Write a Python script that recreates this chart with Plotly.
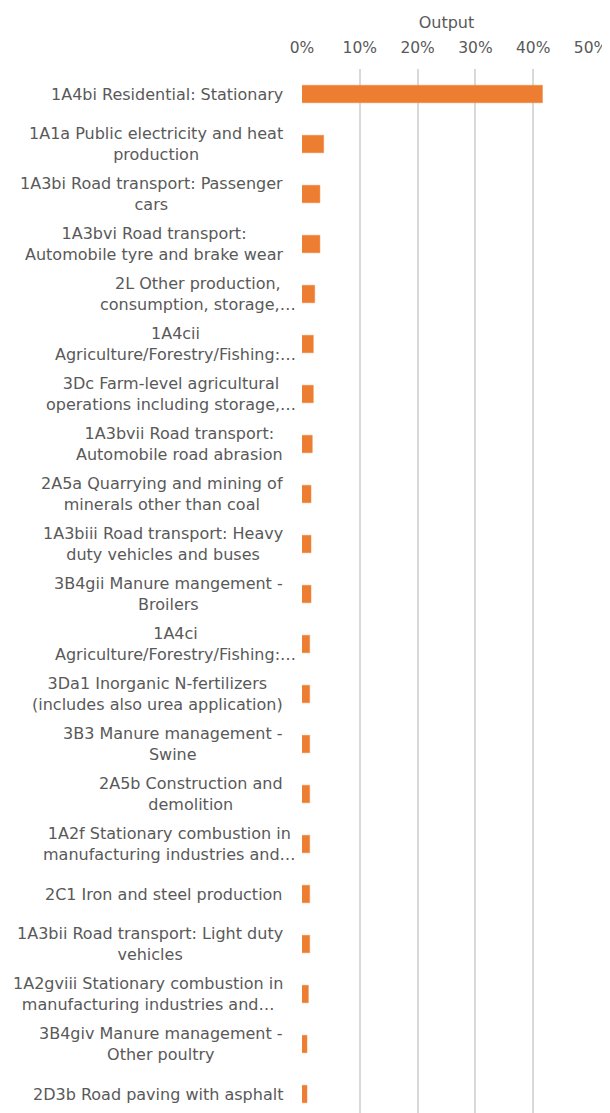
import plotly.graph_objects as go

categories = [
    "1A4bi Residential: Stationary",
    "1A1a Public electricity and heat<br>production",
    "1A3bi Road transport: Passenger<br>cars",
    "1A3bvi Road transport:<br>Automobile tyre and brake wear",
    "2L Other production,<br>consumption, storage,…",
    "1A4cii<br>Agriculture/Forestry/Fishing:…",
    "3Dc Farm-level agricultural<br>operations including storage,…",
    "1A3bvii Road transport:<br>Automobile road abrasion",
    "2A5a Quarrying and mining of<br>minerals other than coal",
    "1A3biii Road transport: Heavy<br>duty vehicles and buses",
    "3B4gii Manure mangement -<br>Broilers",
    "1A4ci<br>Agriculture/Forestry/Fishing:…",
    "3Da1 Inorganic N-fertilizers<br>(includes also urea application)",
    "3B3 Manure management -<br>Swine",
    "2A5b Construction and<br>demolition",
    "1A2f Stationary combustion in<br>manufacturing industries and…",
    "2C1 Iron and steel production",
    "1A3bii Road transport: Light duty<br>vehicles",
    "1A2gviii Stationary combustion in<br>manufacturing industries and…",
    "3B4giv Manure management -<br>Other poultry",
    "2D3b Road paving with asphalt",
]

output_pct = [41.6, 3.75, 3.1, 3.1, 2.2, 1.96, 1.96, 1.78, 1.56, 1.56, 1.56,
              1.33, 1.33, 1.33, 1.33, 1.33, 1.33, 1.33, 1.1, 0.87, 0.87]

x_ticks = [0, 10, 20, 30, 40, 50]
x_tick_labels = ["0%", "10%", "20%", "30%", "40%", "50%"]

# labels whose trailing ellipsis sticks out past the label box
overhang = {4, 5, 6, 11, 15}

FONT = "DejaVu Sans, Liberation Sans, Arial, sans-serif"
GREY = "#595959"

fig = go.Figure()
fig.add_trace(go.Bar(
    y=categories,
    x=output_pct,
    orientation="h",
    width=0.35,
    marker=dict(color="#ED7D31", line=dict(color="#F08A45", width=0.5)),
    showlegend=False,
))

for i, c in enumerate(categories):
    fig.add_annotation(
        x=0, xref="paper", y=c, yref="y",
        text=c, showarrow=False,
        xanchor="right", yanchor="middle", align="center",
        xshift=-4 if i in overhang else -17,
        font=dict(family=FONT, size=16, color=GREY),
    )

# page body has an 8px default margin, so the figure is drawn 8px in/down
fig.update_layout(
    width=602, height=1105,
    margin=dict(l=294, r=19, t=61, b=0),
    paper_bgcolor="white", plot_bgcolor="white",
    font=dict(family=FONT, size=16, color=GREY),
    bargap=0.65,
)
fig.update_xaxes(
    side="top", range=[0, 50], tickvals=x_ticks, ticktext=x_tick_labels,
    showgrid=True, gridcolor="#d9d9d9", gridwidth=2,
    zeroline=False, showline=False, ticks="", ticklabelstandoff=12,
    tickfont=dict(family=FONT, size=15.5, color=GREY),
    title=dict(text="Output", font=dict(family=FONT, size=16, color=GREY), standoff=6),
)
fig.update_yaxes(
    range=[20.38, -0.5], showticklabels=False, showgrid=False,
    zeroline=False, showline=False, ticks="",
)

fig.write_html("out.html")
